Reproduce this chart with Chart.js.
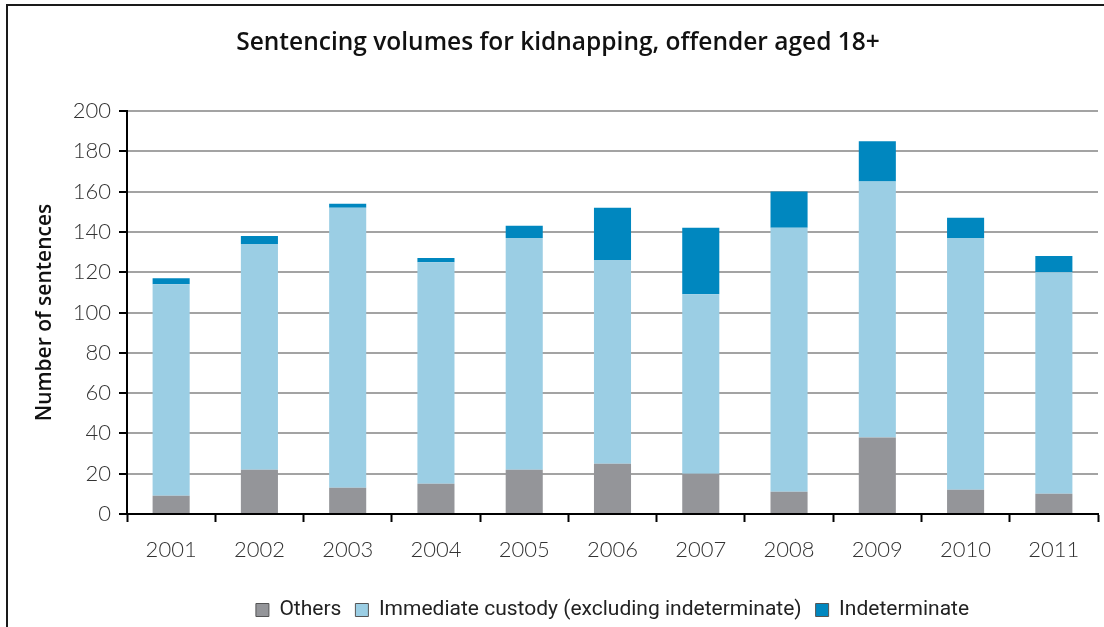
<!DOCTYPE html>
<html>
<head>
<meta charset="utf-8">
<script src="https://cdn.jsdelivr.net/npm/chart.js@4/dist/chart.umd.min.js"></script>
<style>
  html, body { margin: 0; padding: 0; background: #fff; }
  #wrap { position: absolute; left: 0; top: 0; width: 1104px; height: 627px; }
  #frame { position: absolute; left: 6px; top: 4px; width: 1200px; height: 700px;
           border-top: 2px solid #1a1a1a; border-left: 2px solid #1a1a1a; }
</style>
</head>
<body>
<div id="frame"></div>
<div id="wrap"><canvas id="chart"></canvas></div>
<script>
// sentencing volumes by year, stacked by disposal type
const years = ['2001', '2002', '2003', '2004', '2005', '2006', '2007', '2008', '2009', '2010', '2011'];
const others = [9, 22, 13, 15, 22, 25, 20, 11, 38, 12, 10];
const immediateCustody = [105, 112, 139, 110, 115, 101, 89, 131, 127, 125, 110];
const indeterminate = [3, 4, 2, 2, 6, 26, 33, 18, 20, 10, 8];
const yTicks = [0, 20, 40, 60, 80, 100, 120, 140, 160, 180, 200];

const tickFont = { family: 'Lato', size: 22, weight: '300' };

// centre the legend row under the plot area rather than the whole canvas,
// and nudge the title the same way
const centreOnPlot = {
    id: 'centreOnPlot',
    afterLayout(chart) {
        const area = chart.chartArea;
        chart.legend.left = area.left;
        chart.legend.right = area.right;
        chart.titleBlock.left = 18;
    }
};

const ctx = document.getElementById('chart').getContext('2d');
new Chart(ctx, {
    type: 'bar',
    data: {
        labels: years,
        datasets: [
            { label: 'Others', data: others, backgroundColor: '#949599' },
            { label: 'Immediate custody (excluding indeterminate)', data: immediateCustody, backgroundColor: '#9bcee4' },
            { label: 'Indeterminate', data: indeterminate, backgroundColor: '#0087bf' }
        ]
    },
    plugins: [centreOnPlot],
    options: {
        responsive: true,
        maintainAspectRatio: false,
        animation: false,
        devicePixelRatio: 1,
        layout: { padding: { left: 0, right: 6, top: 0, bottom: -3.5 } },
        datasets: {
            bar: { categoryPercentage: 1, barPercentage: 0.42 }
        },
        plugins: {
            tooltip: { enabled: false },
            title: {
                display: true,
                text: 'Sentencing volumes for kidnapping, offender aged 18+',
                color: '#111',
                font: { family: 'Open Sans', size: 24.5, weight: '600', lineHeight: 1.2 },
                padding: { top: 28, bottom: 53.6 }
            },
            legend: {
                position: 'bottom',
                labels: {
                    color: '#222',
                    font: { family: 'Roboto', size: 21 },
                    boxWidth: 13,
                    boxHeight: 13,
                    padding: 14,
                    generateLabels(chart) {
                        const items = Chart.defaults.plugins.legend.labels.generateLabels(chart);
                        items.forEach(item => {
                            item.strokeStyle = '#555';
                            item.lineWidth = 1;
                        });
                        return items;
                    }
                }
            }
        },
        scales: {
            x: {
                stacked: true,
                border: { color: '#000', width: 2 },
                grid: { offset: true, drawOnChartArea: false, drawTicks: true, tickLength: 8, tickColor: '#000', tickWidth: 2 },
                ticks: { color: '#333', font: tickFont, padding: 15, maxRotation: 0 },
                afterFit(scale) { scale.height = 71.5; }
            },
            y: {
                stacked: true,
                min: 0,
                max: 200,
                afterBuildTicks(scale) { scale.ticks = yTicks.map(v => ({ value: v })); },
                border: { color: '#000', width: 2 },
                grid: { color: '#a3a3a3', lineWidth: 2, tickLength: 8, tickColor: '#000', tickWidth: 2 },
                ticks: { color: '#333', font: tickFont, padding: 8 },
                title: {
                    display: true,
                    text: 'Number of sentences',
                    color: '#111',
                    font: { family: 'Open Sans', size: 21, weight: '600', lineHeight: 1.2 },
                    padding: { top: 32, bottom: 0 }
                },
                afterFit(scale) { scale.width = 127; }
            }
        }
    }
});
</script>
</body>
</html>
